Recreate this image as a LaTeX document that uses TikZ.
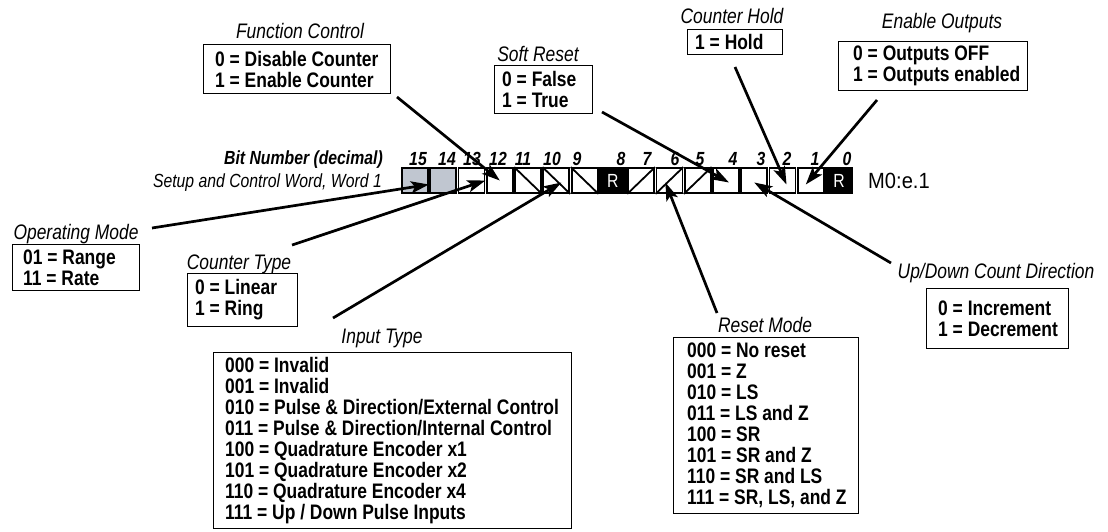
\documentclass[tikz,border=0pt]{standalone}
\usepackage{fontspec}
\setmainfont{Liberation Sans}
\newfontfamily\cf[FakeStretch=0.83]{Liberation Sans}
\newfontfamily\addrfont[FakeStretch=0.915]{Liberation Sans}
\usetikzlibrary{arrows.meta,calc}
\definecolor{cellgray}{RGB}{192,198,208}
\tikzset{
 box/.style={draw, line width=1.1pt, inner sep=0pt, anchor=north west},
 btext/.style={anchor=west, align=left, inner sep=0pt, font=\cf\bfseries\fontsize{21}{21}\selectfont},
 ttl/.style={anchor=base, inner sep=0pt, font=\cf\itshape\fontsize{21}{21}\selectfont},
 bitnum/.style={anchor=base, inner sep=0pt, font=\cf\bfseries\itshape\fontsize{19}{19}\selectfont},
 cellbase/.style={draw, line width=1.8pt, minimum width=26pt, minimum height=25pt, inner sep=0pt},
 wcell/.style={cellbase, fill=white},
 gcell/.style={cellbase, fill=cellgray},
 rcell/.style={cellbase, fill=black, text=white, font=\cf\fontsize{19}{19}\selectfont},
 diag/.style={line width=1.8pt},
 arr/.style={line width=2.7pt, -{Stealth[length=18pt,width=12pt,inset=4pt]}},
}
\begin{document}
\begin{tikzpicture}[x=1pt,y=-1pt]
\useasboundingbox (0,0) rectangle (1108,531);

% register cells
\node[gcell] (c15) at ({415+0*28.27},180.5) {};
\node[gcell] (c14) at ({415+1*28.27},180.5) {};
\node[wcell] (c13) at ({415+2*28.27},180.5) {};
\node[wcell] (c12) at ({415+3*28.27},180.5) {};
\node[wcell] (c11) at ({415+4*28.27},180.5) {};
\node[wcell] (c10) at ({415+5*28.27},180.5) {};
\node[wcell] (c9)  at ({415+6*28.27},180.5) {};
\node[rcell] (c8)  at ({415+7*28.27},180.5) {R};
\node[wcell] (c7)  at ({415+8*28.27},180.5) {};
\node[wcell] (c6)  at ({415+9*28.27},180.5) {};
\node[wcell] (c5)  at ({415+10*28.27},180.5) {};
\node[wcell] (c4)  at ({415+11*28.27},180.5) {};
\node[wcell] (c3)  at ({415+12*28.27},180.5) {};
\node[wcell] (c2)  at ({415+13*28.27},180.5) {};
\node[wcell] (c1)  at ({415+14*28.27},180.5) {};
\node[rcell] (c0)  at ({415+15*28.27},180.5) {R};
\foreach \i in {11,10,9} \draw[diag] (c\i.north west) -- (c\i.south east);
\foreach \i in {7,6,5} \draw[diag] (c\i.south west) -- (c\i.north east);

% bit numbers
\foreach \i/\x in {15/418,14/447,13/472,12/498,11/523,10/552,9/577,8/621,7/647,6/675,5/700,4/733,3/761,2/787,1/815,0/847}
  \node[bitnum] (n\i) at (\x,165) {\i};
\node[bitnum, anchor=base east] (bitlbl) at (383,164) {Bit Number (decimal)};
\node[anchor=base east, inner sep=0pt, font=\cf\itshape\fontsize{19}{20}\selectfont] (wordlbl) at (382,187) {Setup and Control Word, Word 1};
\node[anchor=base west, inner sep=0pt, font=\addrfont\fontsize{22}{24}\selectfont] (addr) at (868,188) {M0:e.1};

% boxes
\node[box, minimum width=187pt, minimum height=49pt] (fcB) at (203,44) {};
\node[btext] (fcT) at ([xshift=12pt]fcB.west) {0 = Disable Counter\\1 = Enable Counter};
\node[ttl] (fcL) at (300,38) {Function Control};

\node[box, minimum width=98pt, minimum height=48pt] (srB) at (494,65) {};
\node[btext] (srT) at ([xshift=8pt]srB.west) {0 = False\\1 = True};
\node[ttl] (srL) at (538,61) {Soft Reset};

\node[box, minimum width=95pt, minimum height=25pt] (chB) at (687,29) {};
\node[btext] (chT) at ([xshift=8pt]chB.west) {1 = Hold};
\node[ttl] (chL) at (732,23) {Counter Hold};

\node[box, minimum width=189pt, minimum height=49pt] (eoB) at (838,41) {};
\node[btext] (eoT) at ([xshift=15pt]eoB.west) {0 = Outputs OFF\\1 = Outputs enabled};
\node[ttl] (eoL) at (942,28) {Enable Outputs};

\node[box, minimum width=127pt, minimum height=46pt] (omB) at (12,244) {};
\node[btext] (omT) at ([xshift=11pt]omB.west) {01 = Range\\11 = Rate};
\node[ttl] (omL) at (76,239) {Operating Mode};

\node[box, minimum width=110pt, minimum height=53pt] (ctB) at (187,273) {};
\node[btext] (ctT) at ([xshift=8pt]ctB.west) {0 = Linear\\1 = Ring};
\node[ttl] (ctL) at (239,269) {Counter Type};

\node[box, minimum width=358pt, minimum height=176pt] (itB) at (213,352) {};
\node[btext] (itT) at ([xshift=12pt]itB.west) {000 = Invalid\\001 = Invalid\\010 = Pulse \& Direction/External Control\\011 = Pulse \& Direction/Internal Control\\100 = Quadrature Encoder x1\\101 = Quadrature Encoder x2\\110 = Quadrature Encoder x4\\111 = Up / Down Pulse Inputs};
\node[ttl] (itL) at (382,343) {Input Type};

\node[box, minimum width=185pt, minimum height=176pt] (rmB) at (673,337) {};
\node[btext] (rmT) at ([xshift=14pt]rmB.west) {000 = No reset\\001 = Z\\010 = LS\\011 = LS and Z\\100 = SR\\101 = SR and Z\\110 = SR and LS\\111 = SR, LS, and Z};
\node[ttl] (rmL) at (765,332) {Reset Mode};

\node[box, minimum width=142pt, minimum height=60pt] (udB) at (926,288) {};
\node[btext] (udT) at ([xshift=12pt]udB.west) {0 = Increment\\1 = Decrement};
\node[ttl] (udL) at (996,278) {Up/Down Count Direction};

% connector start points
\coordinate (fcS) at (397,97);
\coordinate (srS) at (602,112);
\coordinate (chS) at (735,67);
\coordinate (eoS) at (877,100);
\coordinate (omS) at (152,228);
\coordinate (ctS) at (292,245);
\coordinate (itS) at (333,318);
\coordinate (rmS) at (717,313);
\coordinate (udS) at (891,263);

\draw[arr] (fcS) -- (c12.center);
\draw[arr] (srS) -- ([xshift=3pt,yshift=-2pt]c4.center);
\draw[arr] (chS) -- ([xshift=4pt,yshift=-4pt]c2.center);
\draw[arr] (eoS) -- ([xshift=-5pt,yshift=-4pt]c1.center);
\draw[arr] (omS) -- ([yshift=-4pt]c15.east);
\draw[arr] (ctS) -- (c13.east);
\draw[arr] (itS) -- ([xshift=5pt,yshift=-2pt]c10.center);
\draw[arr] (rmS) -- ([xshift=-4pt,yshift=-2pt]c6.center);
\draw[arr] (udS) -- ([yshift=-2pt]c3.center);
\end{tikzpicture}
\end{document}
